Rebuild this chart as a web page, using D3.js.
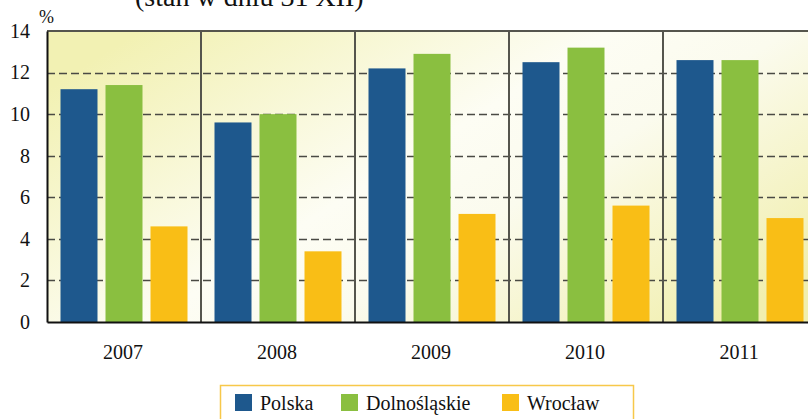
<!DOCTYPE html>
<html>
<head>
<meta charset="utf-8">
<script src="https://cdn.jsdelivr.net/npm/d3@7"></script>
<style>
  html, body { margin: 0; padding: 0; background: #fff; overflow: hidden; }
  svg { display: block; }
  svg text { font-family: "Liberation Serif", "DejaVu Serif", serif; }
</style>
</head>
<body>
<svg id="chart" width="808" height="419"></svg>
<script>
const years = ["2007", "2008", "2009", "2010", "2011"];
const seriesNames = ["Polska", "Dolnośląskie", "Wrocław"];
const polska = [11.2, 9.6, 12.2, 12.5, 12.6];
const dolnoslaskie = [11.4, 10.0, 12.9, 13.2, 12.6];
const wroclaw = [4.6, 3.4, 5.2, 5.6, 5.0];
const yTicks = [0, 2, 4, 6, 8, 10, 12, 14];
const colors = ["#1e588d", "#8abf40", "#f9be16"];
const titleText = "(stan w dniu 31 XII)";
const unitText = "%";

const seriesValues = [polska, dolnoslaskie, wroclaw];
const FONT = "Liberation Serif";

const svg = d3.select("#chart");
const plotLeft = 47, plotTop = 31, plotBottom = 322;
const groupStep = 154;
const plotRight = plotLeft + groupStep * years.length;

const x0 = d3.scaleBand().domain(years).range([plotLeft, plotRight]).paddingInner(0).paddingOuter(0);
const x1 = d3.scaleBand().domain(seriesNames).range([0, x0.bandwidth()]).paddingInner(0.178).paddingOuter(0.3);
const y = d3.scaleLinear().domain([0, 14]).range([plotBottom, plotTop]);

// gradient background
const defs = svg.append("defs");
const grad = defs.append("linearGradient").attr("id", "bg")
  .attr("x1", "0").attr("y1", "0.2").attr("x2", "1").attr("y2", "0.8");
grad.append("stop").attr("offset", "0").attr("stop-color", "#f2f1b3");
grad.append("stop").attr("offset", "0.45").attr("stop-color", "#fdfdf4");
grad.append("stop").attr("offset", "0.62").attr("stop-color", "#fbfbee");
grad.append("stop").attr("offset", "1").attr("stop-color", "#f1efae");

svg.append("rect")
  .attr("x", plotLeft).attr("y", plotTop)
  .attr("width", plotRight - plotLeft).attr("height", plotBottom - plotTop)
  .attr("fill", "url(#bg)");

// grid lines
svg.append("g").selectAll("line")
  .data(yTicks.filter(d => d > 0 && d < 14))
  .join("line")
  .attr("x1", plotLeft).attr("x2", plotRight)
  .attr("y1", d => Math.round(y(d)) + 0.5).attr("y2", d => Math.round(y(d)) + 0.5)
  .attr("stroke", "#4a4a44")
  .attr("stroke-width", 1.6)
  .attr("stroke-dasharray", "8,4");

// vertical separators
svg.append("g").selectAll("line")
  .data(years.slice(1))
  .join("line")
  .attr("x1", d => x0(d)).attr("x2", d => x0(d))
  .attr("y1", plotTop).attr("y2", plotBottom)
  .attr("stroke", "#55554d")
  .attr("stroke-width", 2);

// top border
svg.append("line")
  .attr("x1", plotLeft).attr("x2", plotRight)
  .attr("y1", plotTop).attr("y2", plotTop)
  .attr("stroke", "#55554d").attr("stroke-width", 2);

// bars
const groups = svg.append("g").selectAll("g")
  .data(years)
  .join("g")
  .attr("transform", d => `translate(${x0(d)},0)`);

groups.selectAll("rect")
  .data((yr, i) => seriesNames.map((s, j) => ({ s, v: seriesValues[j][i], c: colors[j] })))
  .join("rect")
  .attr("x", d => x1(d.s))
  .attr("width", x1.bandwidth())
  .attr("y", d => y(d.v))
  .attr("height", d => y(0) - y(d.v))
  .attr("fill", d => d.c);

// y axis
const yAxis = d3.axisLeft(y).tickValues(yTicks).tickSize(0).tickPadding(17).tickFormat(d3.format("d"));
const ya = svg.append("g").attr("transform", `translate(${plotLeft},0)`).call(yAxis)
  .attr("font-family", FONT).attr("font-size", 20);
ya.select(".domain").attr("stroke", "#111").attr("stroke-width", 2);
ya.selectAll("text").attr("font-size", 20).attr("font-family", FONT).attr("fill", "#111");

// x axis
const xAxis = d3.axisBottom(x0).tickSize(0).tickPadding(23);
const xa = svg.append("g").attr("transform", `translate(0,${plotBottom})`).call(xAxis)
  .attr("font-family", FONT).attr("font-size", 20);
xa.select(".domain").attr("stroke", "#111").attr("stroke-width", 2);
xa.selectAll("text").attr("font-size", 20).attr("font-family", FONT).attr("fill", "#111")
  .attr("dx", -1);

// unit label
svg.append("text").attr("x", 39).attr("y", 23)
  .attr("font-family", FONT).attr("font-size", 18).attr("fill", "#111").text(unitText);

// title (cut off at top, as in the reference)
svg.append("text").attr("x", 135).attr("y", 6)
  .attr("font-family", FONT).attr("font-size", 28).attr("fill", "#111").text(titleText);

// legend
const legend = svg.append("g");
legend.append("rect")
  .attr("x", 220.5).attr("y", 385.5)
  .attr("width", 413).attr("height", 50)
  .attr("fill", "#fff")
  .attr("stroke", "#f7c84a").attr("stroke-width", 1.5);

const legendX = [235, 341, 502];
const items = legend.selectAll("g.item")
  .data(seriesNames)
  .join("g").attr("class", "item")
  .attr("transform", (d, i) => `translate(${legendX[i]},394)`);
items.append("rect").attr("width", 17).attr("height", 17).attr("fill", (d, i) => colors[i]);
items.append("text").attr("x", 25).attr("y", 16)
  .attr("font-family", FONT).attr("font-size", 20).attr("fill", "#111").text(d => d);
</script>
</body>
</html>
